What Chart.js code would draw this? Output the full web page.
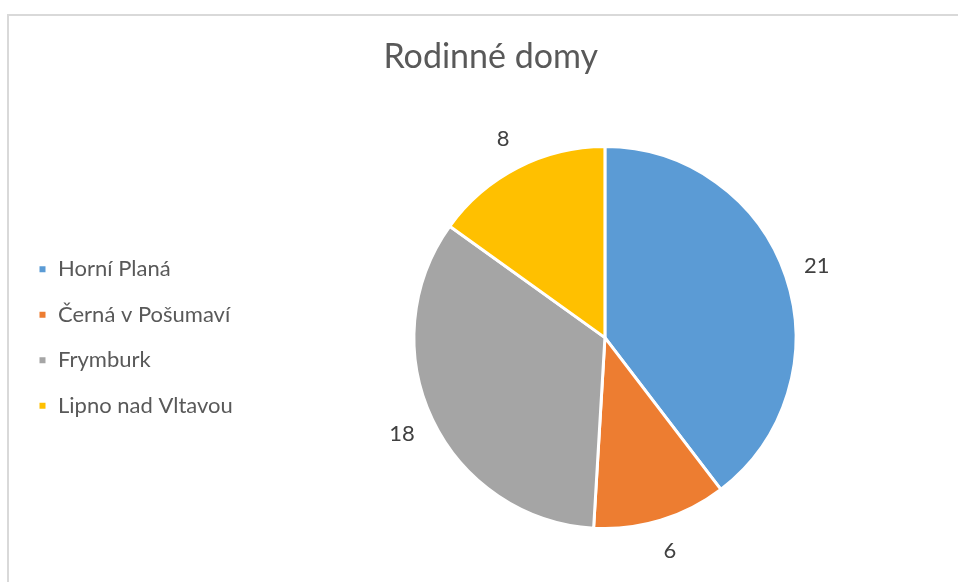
<!DOCTYPE html>
<html>
<head>
<meta charset="utf-8">
<script src="https://cdn.jsdelivr.net/npm/chart.js@4.4.1/dist/chart.umd.min.js"></script>
<style>
  html, body { margin: 0; padding: 0; background: #fff; overflow: hidden; }
  .frame {
    position: absolute; left: 7px; top: 14px; width: 1000px; height: 600px;
    border-left: 2px solid #d9d9d9; border-top: 2px solid #d9d9d9;
  }
  .wrap { position: absolute; left: 0; top: 0; width: 1000px; height: 582px; }
</style>
</head>
<body>
<div class="frame"></div>
<div class="wrap"><canvas id="pieChart"></canvas></div>
<script>
/* Rodinné domy - pie chart */
const chartTitle = "Rodinné domy";
const categories = ["Horní Planá", "Černá v Pošumaví", "Frymburk", "Lipno nad Vltavou"];
const houses = [21, 6, 18, 8];

const sliceColors = ["#5B9BD5", "#ED7D31", "#A5A5A5", "#FFC000"];

// value labels outside the slices (box touching the edge, like Excel "outside end")
const outsideLabels = {
    id: "outsideLabels",
    afterDatasetsDraw(chart) {
        const ctx = chart.ctx;
        const meta = chart.getDatasetMeta(0);
        ctx.save();
        ctx.font = "22px Lato";
        ctx.fillStyle = "#404040";
        ctx.textAlign = "center";
        ctx.textBaseline = "middle";
        meta.data.forEach(function (arc, i) {
            const p = arc.getProps(["x", "y", "startAngle", "endAngle", "outerRadius"], true);
            const text = String(chart.data.datasets[0].data[i]);
            const mid = (p.startAngle + p.endAngle) / 2;
            const halfW = ctx.measureText(text).width / 2;
            const r = p.outerRadius + 16 + halfW * Math.abs(Math.cos(mid)) + 14.5 * Math.abs(Math.sin(mid));
            ctx.fillText(text, p.x + Math.cos(mid) * r, p.y + Math.sin(mid) * r);
        });
        ctx.restore();
    }
};

document.addEventListener("DOMContentLoaded", function () {
    const ctx = document.getElementById("pieChart");
    Chart.defaults.font.family = "Lato";

    new Chart(ctx, {
        type: "pie",
        data: {
            labels: categories,
            datasets: [{
                data: houses,
                backgroundColor: sliceColors,
                borderColor: "#FFFFFF",
                borderWidth: 3
            }]
        },
        options: {
            responsive: true,
            maintainAspectRatio: false,
            animation: false,
            radius: 191,
            layout: {
                padding: { left: 14.5, right: 33, top: 0, bottom: 0 }
            },
            plugins: {
                title: {
                    display: true,
                    text: chartTitle,
                    color: "#595959",
                    font: { size: 34, weight: "normal" },
                    padding: { top: 37, bottom: 15.4 }
                },
                legend: {
                    position: "left",
                    // empty title only pushes the items down to the middle of the pie
                    title: {
                        display: true,
                        text: "",
                        font: { size: 10 },
                        padding: { top: 81, bottom: 0 }
                    },
                    labels: {
                        boxWidth: 9,
                        boxHeight: 9,
                        padding: 23.5,
                        color: "#595959",
                        font: { size: 22 }
                    }
                },
                tooltip: { enabled: false }
            }
        },
        plugins: [outsideLabels]
    });
});
</script>
</body>
</html>
